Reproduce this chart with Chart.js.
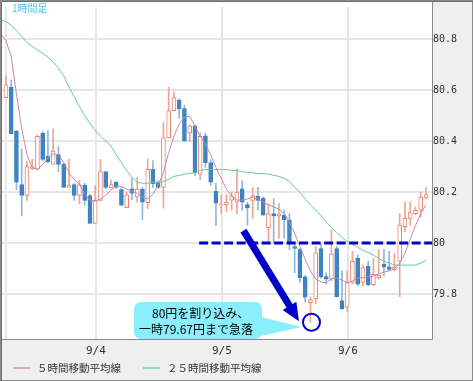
<!DOCTYPE html>
<html>
<head>
<meta charset="utf-8">
<script src="https://cdn.jsdelivr.net/npm/chart.js@4.4.1/dist/chart.umd.min.js"></script>
<style>
  html, body { margin: 0; padding: 0; background: #fff; }
  #wrap { width: 473px; height: 381px; position: relative; }
</style>
</head>
<body>
<div id="wrap"><canvas id="chart"></canvas></div>
<script>
// hourly candles, index 0 = first visible hour
const opens = [
  80.572, 80.613, 80.442, 80.231, 80.188, 80.294, 80.291, 80.433, 80.343, 80.310,
  80.349, 80.310, 80.220, 80.231, 80.188, 80.229, 80.188, 80.078, 80.169, 80.282,
  80.218, 80.240, 80.211, 80.140, 80.214, 80.182, 80.213, 80.160, 80.291, 80.240,
  80.220, 80.414, 80.521, 80.562, 80.529, 80.433, 80.461, 80.272, 80.422, 80.317,
  80.204, 80.150, 80.151, 80.170, 80.162, 80.214, 80.152, 80.169, 80.186, 80.178,
  80.062, 80.117, 80.108, 80.111, 80.092, 79.988, 79.976, 79.869, 79.768, 79.782,
  79.980, 79.870, 79.860, 79.980, 79.776, 79.750, 79.847, 79.941, 79.847, 79.911,
  79.838, 79.866, 79.918, 79.908, 79.897, 79.930, 80.066, 80.098, 80.117, 80.130,
  80.178
];
const highs = [
  80.657, 80.642, 80.442, 80.371, 80.323, 80.330, 80.426, 80.439, 80.443, 80.450,
  80.381, 80.317, 80.330, 80.236, 80.246, 80.236, 80.193, 80.227, 80.330, 80.282,
  80.249, 80.243, 80.220, 80.201, 80.255, 80.259, 80.220, 80.332, 80.325, 80.247,
  80.474, 80.613, 80.594, 80.568, 80.542, 80.465, 80.465, 80.433, 80.433, 80.328,
  80.237, 80.189, 80.191, 80.201, 80.291, 80.246, 80.162, 80.220, 80.220, 80.182,
  80.156, 80.175, 80.156, 80.130, 80.117, 80.001, 79.980, 79.876, 79.791, 79.988,
  79.996, 79.885, 80.053, 79.988, 79.892, 79.892, 79.969, 79.954, 79.915, 79.930,
  79.941, 79.976, 79.977, 79.969, 79.961, 80.117, 80.162, 80.162, 80.143, 80.201,
  80.220
];
const lows = [
  80.572, 80.430, 80.211, 80.108, 80.169, 80.290, 80.291, 80.325, 80.317, 80.310,
  80.281, 80.220, 80.220, 80.169, 80.156, 80.150, 80.078, 80.078, 80.169, 80.214,
  80.218, 80.216, 80.147, 80.140, 80.173, 80.162, 80.093, 80.136, 80.220, 80.216,
  80.139, 80.414, 80.521, 80.491, 80.401, 80.401, 80.266, 80.250, 80.298, 80.227,
  80.070, 80.117, 80.124, 80.131, 80.117, 80.130, 80.072, 80.098, 80.131, 80.111,
  80.001, 80.001, 80.020, 80.020, 79.976, 79.885, 79.847, 79.769, 79.690, 79.763,
  79.865, 79.840, 79.853, 79.789, 79.740, 79.731, 79.842, 79.834, 79.834, 79.834,
  79.834, 79.861, 79.872, 79.892, 79.892, 79.791, 80.046, 80.072, 80.112, 80.104,
  80.175
];
const closes = [
  80.622, 80.430, 80.240, 80.188, 80.301, 80.301, 80.420, 80.330, 80.320, 80.362,
  80.310, 80.220, 80.229, 80.188, 80.231, 80.169, 80.078, 80.169, 80.282, 80.220,
  80.231, 80.220, 80.150, 80.191, 80.197, 80.213, 80.162, 80.291, 80.233, 80.220,
  80.414, 80.521, 80.572, 80.529, 80.401, 80.461, 80.278, 80.420, 80.317, 80.240,
  80.158, 80.153, 80.162, 80.186, 80.201, 80.162, 80.139, 80.188, 80.169, 80.111,
  80.117, 80.108, 80.116, 80.092, 80.004, 79.980, 79.866, 79.789, 79.780, 79.963,
  79.869, 79.860, 79.959, 79.791, 79.744, 79.847, 79.930, 79.840, 79.905, 79.838,
  79.879, 79.876, 79.907, 79.898, 79.907, 80.072, 80.098, 80.121, 80.130, 80.182,
  80.191
];

// moving averages, first value is the hour before candle 0
const ma5 = [
  80.823,
  80.796, 80.734, 80.587, 80.452, 80.348, 80.298, 80.290, 80.309, 80.336, 80.352,
  80.348, 80.317, 80.278, 80.251, 80.232, 80.193, 80.170, 80.166, 80.174, 80.189,
  80.209, 80.224, 80.224, 80.213, 80.205, 80.197, 80.182, 80.174, 80.193, 80.228,
  80.278, 80.356, 80.421, 80.468, 80.495, 80.499, 80.460, 80.421, 80.390, 80.348,
  80.298, 80.255, 80.213, 80.186, 80.170, 80.170, 80.174, 80.182, 80.174, 80.162,
  80.151, 80.143, 80.135, 80.116, 80.085, 80.039, 79.988, 79.938, 79.892, 79.861,
  79.849, 79.845, 79.861, 79.865, 79.857, 79.845, 79.853, 79.865, 79.865, 79.869,
  79.872, 79.880, 79.888, 79.892, 79.900, 79.923, 79.961, 80.015, 80.070, 80.116,
  80.151
];
const ma25 = [
  80.877,
  80.870, 80.856, 80.835, 80.812, 80.788, 80.773, 80.759, 80.746, 80.730, 80.711,
  80.688, 80.657, 80.614, 80.576, 80.537, 80.502, 80.471, 80.444, 80.421, 80.402,
  80.383, 80.348, 80.317, 80.286, 80.259, 80.240, 80.236, 80.236, 80.240, 80.240,
  80.243, 80.251, 80.263, 80.267, 80.271, 80.274, 80.278, 80.286, 80.290, 80.290,
  80.290, 80.290, 80.290, 80.286, 80.286, 80.282, 80.278, 80.278, 80.274, 80.274,
  80.271, 80.267, 80.263, 80.255, 80.243, 80.220, 80.201, 80.174, 80.151, 80.131,
  80.108, 80.085, 80.062, 80.043, 80.023, 80.008, 79.996, 79.985, 79.973, 79.965,
  79.954, 79.942, 79.930, 79.923, 79.915, 79.915, 79.915, 79.915, 79.915, 79.923,
  79.934
];

const dayTicks = [17.14, 41.14, 65.14];
const dayLabels = ['9/4', '9/5', '9/6'];
const priceTicks = [79.8, 80, 80.2, 80.4, 80.6, 80.8];
const priceRange = [79.625, 80.9275];
const hourRange = [-0.75, 81.155];
const seriesNames = ['５時間移動平均線', '２５時間移動平均線'];

// annotation anchors in data space (hour index, price)
const breakLevel = 80;
const breakFrom = 36.8;
const arrowFrom = [45.24, 80.05];
const arrowTo = [55.81, 79.695];
const lowMark = [58.2, 79.691];
const noteLines = ['80円を割り込み、', '一時79.67円まで急落'];

const UP = '#e8846e', UP_WICK = '#eea592';
const DOWN = '#3d84c0', DOWN_WICK = '#8fb7da';

const isUp = opens.map((o, i) => closes[i] >= o);

const frame = {
    id: 'frame',
    beforeDraw(chart) {
        const { ctx, chartArea: a, width, height } = chart;
        ctx.save();
        ctx.fillStyle = '#efefef';
        ctx.fillRect(0, 0, width, height);
        ctx.fillStyle = '#ffffff';
        ctx.fillRect(1, 1, a.right - 1, a.bottom - 1);
        ctx.restore();
    },
    afterDraw(chart) {
        const { ctx, chartArea: a, width, height } = chart;
        const xs = chart.scales.x, ys = chart.scales.y;
        const px = v => xs.getPixelForValue(v);
        const py = v => ys.getPixelForValue(v);
        ctx.save();

        // 80 yen line
        ctx.strokeStyle = '#0000c8';
        ctx.lineWidth = 3;
        ctx.setLineDash([9, 3.5]);
        ctx.beginPath();
        ctx.moveTo(px(breakFrom), Math.round(py(breakLevel)));
        ctx.lineTo(a.right, Math.round(py(breakLevel)));
        ctx.stroke();
        ctx.setLineDash([]);

        // arrow
        const x0 = px(arrowFrom[0]), y0 = py(arrowFrom[1]);
        const x1 = px(arrowTo[0]), y1 = py(arrowTo[1]);
        const ang = Math.atan2(y1 - y0, x1 - x0);
        const headLen = 18, headW = 16;
        const bx = x1 - headLen * Math.cos(ang), by = y1 - headLen * Math.sin(ang);
        ctx.fillStyle = '#0000c8';
        ctx.lineWidth = 7;
        ctx.lineCap = 'butt';
        ctx.beginPath();
        ctx.moveTo(x0, y0);
        ctx.lineTo(bx + Math.cos(ang), by + Math.sin(ang));
        ctx.stroke();
        ctx.beginPath();
        ctx.moveTo(x1, y1);
        ctx.lineTo(bx + headW / 2 * Math.sin(ang), by - headW / 2 * Math.cos(ang));
        ctx.lineTo(bx - headW / 2 * Math.sin(ang), by + headW / 2 * Math.cos(ang));
        ctx.closePath();
        ctx.fill();

        // circle at the low
        ctx.lineWidth = 2;
        ctx.beginPath();
        ctx.arc(px(lowMark[0]), py(lowMark[1]), 8.5, 0, Math.PI * 2);
        ctx.stroke();

        // callout
        const bl = 134, br = 262, bt = 302, bb = a.bottom;
        ctx.fillStyle = '#8aeffc';
        ctx.beginPath();
        ctx.roundRect(bl, bt, br - bl, bb - bt, 7);
        ctx.fill();
        ctx.beginPath();
        ctx.moveTo(br - 1, 317);
        ctx.lineTo(px(lowMark[0]) - 10, 327);
        ctx.lineTo(br - 1, 336);
        ctx.closePath();
        ctx.fill();
        ctx.fillStyle = '#000';
        ctx.font = '12px "Noto Sans CJK JP"';
        ctx.textBaseline = 'middle';
        ctx.textAlign = 'left';
        ctx.fillText(noteLines[0], bl + 18, bt + 11);
        ctx.fillText(noteLines[1], bl + 5, bt + 27);

        // title
        ctx.fillStyle = '#4cc3f1';
        ctx.font = '10px "Noto Sans CJK JP"';
        ctx.fillText('1時間足', 12, 8);

        // legend
        const lines = chart.data.datasets.filter(d => d.type === 'line');
        const slot = [13, 143];
        ctx.font = '10.5px "Noto Sans CJK JP"';
        lines.forEach((d, k) => {
            ctx.strokeStyle = d.legendColor;
            ctx.lineWidth = 2;
            ctx.beginPath();
            ctx.moveTo(slot[k], 368);
            ctx.lineTo(slot[k] + 17, 368);
            ctx.stroke();
            ctx.fillStyle = '#333';
            ctx.fillText(d.label, slot[k] + 24, 368);
        });

        // borders
        ctx.strokeStyle = '#8a8a8a';
        ctx.lineWidth = 1;
        ctx.strokeRect(0.5, 0.5, width - 1, height - 1);
        ctx.beginPath();
        ctx.moveTo(Math.round(a.right) + 0.5, 0);
        ctx.lineTo(Math.round(a.right) + 0.5, Math.round(a.bottom) + 0.5);
        ctx.lineTo(0, Math.round(a.bottom) + 0.5);
        ctx.stroke();
        ctx.strokeStyle = '#6e6e6e';
        ctx.beginPath();
        ctx.moveTo(1.5, height);
        ctx.lineTo(1.5, 1.5);
        ctx.lineTo(width, 1.5);
        ctx.stroke();
        ctx.restore();
    }
};

const ctx = document.getElementById('chart').getContext('2d');
new Chart(ctx, {
    type: 'bar',
    data: {
        datasets: [
            {
                type: 'line',
                label: seriesNames[0],
                data: ma5.map((v, i) => ({ x: i - 1, y: v })),
                borderColor: '#cf86a8',
                legendColor: '#dca7c0',
                borderWidth: 1,
                pointRadius: 0,
                tension: 0,
                order: 1
            },
            {
                type: 'line',
                label: seriesNames[1],
                data: ma25.map((v, i) => ({ x: i - 1, y: v })),
                borderColor: '#62cf98',
                legendColor: '#8fdcb4',
                borderWidth: 1,
                pointRadius: 0,
                tension: 0,
                order: 1
            },
            {
                label: 'body',
                data: opens.map((o, i) => ({ x: i, y: [o, closes[i]] })),
                backgroundColor: isUp.map(u => u ? '#ffffff' : DOWN),
                borderColor: isUp.map(u => u ? UP : DOWN),
                borderWidth: 1,
                borderSkipped: false,
                barThickness: 4,
                grouped: false,
                order: 2
            },
            {
                label: 'wick',
                data: highs.map((h, i) => ({ x: i, y: [lows[i], h] })),
                backgroundColor: isUp.map(u => u ? UP_WICK : DOWN_WICK),
                borderWidth: 0,
                barThickness: 1,
                grouped: false,
                order: 3
            }
        ]
    },
    options: {
        responsive: true,
        maintainAspectRatio: false,
        animation: false,
        events: [],
        layout: { padding: { left: 2, top: 2, right: 1, bottom: 22 } },
        plugins: {
            legend: { display: false },
            tooltip: { enabled: false }
        },
        scales: {
            x: {
                type: 'linear',
                min: hourRange[0],
                max: hourRange[1],
                offset: false,
                afterBuildTicks: s => { s.ticks = [0.1, ...dayTicks].map(v => ({ value: v })); },
                afterFit: s => { s.height = 20; },
                grid: { color: '#e6e6e6', lineWidth: 2, drawTicks: false, offset: false },
                border: { display: false },
                ticks: {
                    padding: 6,
                    color: '#333',
                    autoSkip: false,
                    maxRotation: 0,
                    font: { family: 'DejaVu Sans Mono', size: 11 },
                    callback: (v, i) => i === 0 ? '' : dayLabels[i - 1]
                }
            },
            y: {
                type: 'linear',
                position: 'right',
                min: priceRange[0],
                max: priceRange[1],
                beginAtZero: false,
                afterBuildTicks: s => { s.ticks = priceTicks.map(v => ({ value: v })); },
                afterFit: s => { s.width = 40; },
                grid: { color: '#e6e6e6', lineWidth: 2, drawTicks: false },
                border: { display: false },
                ticks: {
                    padding: 1,
                    color: '#333',
                    font: { family: 'DejaVu Sans Mono', size: 10 },
                    callback: v => String(Number(v.toFixed(1)))
                }
            }
        }
    },
    plugins: [frame]
});
</script>
</body>
</html>
